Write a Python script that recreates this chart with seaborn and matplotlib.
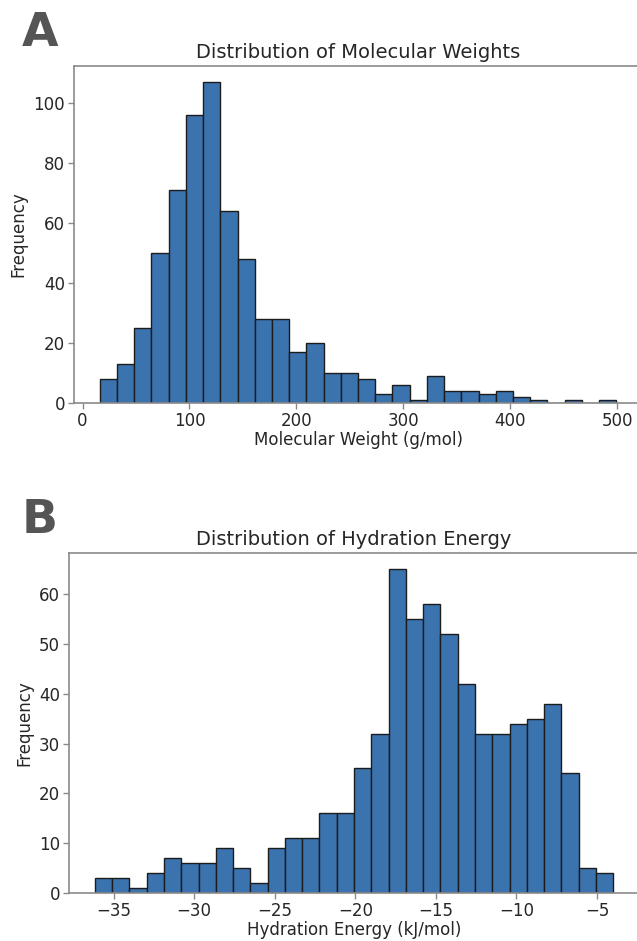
import matplotlib
matplotlib.use("Agg")
import matplotlib.pyplot as plt
import seaborn as sns
import numpy as np

# --- data ---
mw_range = (16.2, 499.0)
mw_counts = [8, 13, 25, 50, 71, 96, 107, 64, 48, 28, 28, 17, 20, 10, 10,
             8, 3, 6, 1, 9, 4, 4, 3, 4, 2, 1, 0, 1, 0, 1]

he_range = (-36.16, -4.0)
he_counts = [3, 3, 1, 4, 7, 6, 6, 9, 5, 2, 9, 11, 11, 16, 16,
             25, 32, 65, 55, 58, 52, 42, 32, 32, 34, 35, 38, 24, 5, 4]

bar_color = '#3a73ae'
spine_color = '#8a8a8a'


def centers(rng, counts):
    edges = np.linspace(rng[0], rng[1], len(counts) + 1)
    return (edges[:-1] + edges[1:]) / 2


def draw_hist(ax, rng, counts, title, xlabel):
    sns.histplot(x=centers(rng, counts), weights=counts, bins=len(counts),
                 binrange=rng, color=bar_color, alpha=1.0,
                 edgecolor='#1c1c1c', linewidth=1.0, ax=ax)
    ax.set_title(title, fontsize=14, pad=6)
    ax.set_xlabel(xlabel, fontsize=12, labelpad=1)
    ax.set_ylabel('Frequency', fontsize=12)
    ax.tick_params(labelsize=12, color=spine_color, length=4, width=1,
                   bottom=True, left=True, direction='out', pad=2.5)
    for side in ['left', 'bottom', 'top']:
        ax.spines[side].set_color(spine_color)
        ax.spines[side].set_linewidth(1.2)
    ax.spines['right'].set_visible(False)
    ax.margins(x=0.05)


sns.set_style('white')
plt.rcParams['font.family'] = ['DejaVu Sans']

fig = plt.figure(figsize=(6.37, 9.41), dpi=100)
ax1 = fig.add_axes([0.1162, 0.5717, 0.8917, 0.3581])
ax2 = fig.add_axes([0.1083, 0.0510, 0.8950, 0.3614])

draw_hist(ax1, mw_range, mw_counts, 'Distribution of Molecular Weights',
          'Molecular Weight (g/mol)')
draw_hist(ax2, he_range, he_counts, 'Distribution of Hydration Energy',
          'Hydration Energy (kJ/mol)')

fig.text(0.063, 0.964, 'A', fontsize=34, fontweight='bold', color='#555555',
         ha='center', va='center')
fig.text(0.063, 0.447, 'B', fontsize=34, fontweight='bold', color='#555555',
         ha='center', va='center')

fig.savefig('out.png', dpi=100)
